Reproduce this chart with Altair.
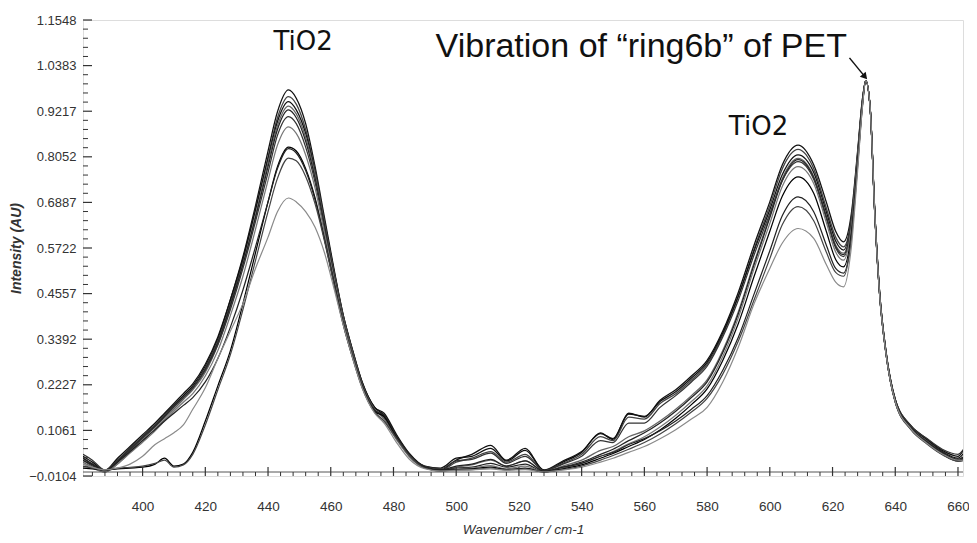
import altair as alt
import pandas as pd

# ---------------- data ----------------
wavenumber = [381, 384, 388, 392, 396, 400, 404, 407, 410, 413, 416, 420, 424, 428, 432, 436,
              440, 443, 446.5, 449, 452, 455, 458, 461, 464, 467, 470, 474, 477, 481, 485, 490,
              495, 500, 505, 511, 516, 522, 528, 534, 540, 546, 550, 555, 560, 565, 570, 575,
              580, 585, 590, 595, 600, 604, 609, 614, 618, 621, 623.5, 626, 628, 629.5, 630.6,
              632, 633.5, 635, 637, 640, 645, 650, 655, 660, 662]

s1 = [0.035, 0.02, 0.002, 0.03, 0.06, 0.09, 0.12, 0.145, 0.17, 0.195, 0.22, 0.27, 0.34, 0.44, 0.55, 0.68,
      0.82, 0.92, 0.976, 0.955, 0.89, 0.78, 0.65, 0.52, 0.40, 0.31, 0.23, 0.165, 0.145, 0.09, 0.045, 0.012,
      0.005, 0.03, 0.045, 0.068, 0.03, 0.06, 0.003, 0.025, 0.05, 0.10, 0.083, 0.15, 0.14, 0.183, 0.21, 0.245,
      0.285, 0.36, 0.46, 0.58, 0.69, 0.785, 0.835, 0.785, 0.69, 0.615, 0.588, 0.66, 0.82, 0.95, 1.0,
      0.93, 0.66, 0.46, 0.31, 0.185, 0.115, 0.083, 0.052, 0.035, 0.05]
s2 = [0.03, 0.015, 0.0, 0.025, 0.055, 0.085, 0.115, 0.14, 0.165, 0.19, 0.215, 0.265, 0.335, 0.43, 0.54, 0.67,
      0.805, 0.905, 0.959, 0.94, 0.875, 0.77, 0.64, 0.51, 0.395, 0.305, 0.225, 0.16, 0.14, 0.088, 0.042, 0.01,
      0.004, 0.025, 0.035, 0.052, 0.025, 0.045, 0.004, 0.022, 0.045, 0.09, 0.08, 0.14, 0.135, 0.175, 0.2, 0.235,
      0.275, 0.35, 0.45, 0.57, 0.68, 0.775, 0.824, 0.775, 0.675, 0.60, 0.575, 0.65, 0.815, 0.95, 1.0,
      0.93, 0.66, 0.46, 0.31, 0.18, 0.112, 0.08, 0.05, 0.032, 0.04]
s3 = [0.04, 0.025, 0.004, 0.035, 0.065, 0.095, 0.125, 0.15, 0.175, 0.20, 0.225, 0.275, 0.345, 0.44, 0.545, 0.67,
      0.80, 0.895, 0.946, 0.925, 0.865, 0.765, 0.64, 0.515, 0.40, 0.31, 0.23, 0.165, 0.15, 0.095, 0.048, 0.015,
      0.01, 0.035, 0.04, 0.06, 0.028, 0.055, 0.005, 0.028, 0.052, 0.098, 0.085, 0.148, 0.142, 0.18, 0.205, 0.24,
      0.28, 0.355, 0.45, 0.565, 0.67, 0.76, 0.81, 0.765, 0.665, 0.59, 0.567, 0.645, 0.81, 0.945, 1.0,
      0.93, 0.66, 0.46, 0.31, 0.185, 0.118, 0.085, 0.055, 0.04, 0.06]
s4 = [0.025, 0.012, 0.0, 0.02, 0.05, 0.08, 0.11, 0.135, 0.16, 0.185, 0.21, 0.255, 0.325, 0.42, 0.53, 0.655,
      0.79, 0.885, 0.935, 0.915, 0.855, 0.76, 0.635, 0.51, 0.395, 0.305, 0.225, 0.16, 0.135, 0.085, 0.04, 0.01,
      0.003, 0.012, 0.018, 0.03, 0.015, 0.028, 0.002, 0.015, 0.03, 0.055, 0.065, 0.09, 0.105, 0.13, 0.16, 0.195,
      0.235, 0.31, 0.41, 0.535, 0.655, 0.75, 0.801, 0.755, 0.655, 0.58, 0.559, 0.64, 0.81, 0.945, 1.0,
      0.93, 0.655, 0.455, 0.305, 0.18, 0.112, 0.078, 0.048, 0.03, 0.035]
s5 = [0.03, 0.018, 0.002, 0.028, 0.058, 0.088, 0.118, 0.142, 0.168, 0.19, 0.215, 0.262, 0.33, 0.425, 0.53, 0.65,
      0.78, 0.875, 0.925, 0.905, 0.845, 0.75, 0.63, 0.505, 0.39, 0.30, 0.222, 0.158, 0.14, 0.088, 0.043, 0.012,
      0.004, 0.01, 0.012, 0.022, 0.012, 0.02, 0.0, 0.012, 0.025, 0.045, 0.058, 0.08, 0.1, 0.125, 0.155, 0.19,
      0.23, 0.305, 0.405, 0.53, 0.65, 0.745, 0.798, 0.752, 0.652, 0.576, 0.555, 0.635, 0.805, 0.945, 1.0,
      0.93, 0.655, 0.455, 0.305, 0.18, 0.11, 0.075, 0.046, 0.028, 0.03]
s6 = [0.045, 0.03, 0.005, 0.03, 0.06, 0.09, 0.12, 0.145, 0.168, 0.19, 0.215, 0.26, 0.325, 0.415, 0.52, 0.64,
      0.765, 0.86, 0.908, 0.89, 0.83, 0.74, 0.62, 0.50, 0.385, 0.297, 0.22, 0.158, 0.142, 0.09, 0.045, 0.014,
      0.008, 0.028, 0.032, 0.048, 0.022, 0.04, 0.004, 0.02, 0.04, 0.08, 0.075, 0.125, 0.125, 0.165, 0.195, 0.23,
      0.27, 0.345, 0.44, 0.555, 0.66, 0.745, 0.793, 0.748, 0.648, 0.572, 0.55, 0.63, 0.80, 0.94, 1.0,
      0.93, 0.66, 0.46, 0.31, 0.186, 0.118, 0.086, 0.058, 0.045, 0.06]
s7 = [0.02, 0.01, 0.0, 0.02, 0.048, 0.076, 0.105, 0.13, 0.155, 0.178, 0.2, 0.245, 0.31, 0.40, 0.50, 0.62,
      0.745, 0.835, 0.882, 0.865, 0.81, 0.725, 0.61, 0.495, 0.385, 0.297, 0.22, 0.155, 0.13, 0.082, 0.04, 0.01,
      0.002, 0.008, 0.01, 0.016, 0.008, 0.015, 0.0, 0.01, 0.022, 0.04, 0.052, 0.072, 0.09, 0.115, 0.145, 0.18,
      0.22, 0.295, 0.395, 0.52, 0.635, 0.73, 0.78, 0.737, 0.638, 0.562, 0.541, 0.625, 0.80, 0.94, 1.0,
      0.93, 0.655, 0.455, 0.305, 0.178, 0.108, 0.074, 0.045, 0.028, 0.03]
s8 = [0.01, 0.008, 0.005, 0.008, 0.01, 0.012, 0.02, 0.035, 0.015, 0.02, 0.05, 0.13, 0.22, 0.31, 0.43, 0.56,
      0.69, 0.78, 0.83, 0.82, 0.775, 0.70, 0.595, 0.485, 0.378, 0.292, 0.218, 0.155, 0.142, 0.09, 0.045, 0.012,
      0.004, 0.006, 0.008, 0.012, 0.006, 0.01, 0.0, 0.008, 0.018, 0.035, 0.047, 0.065, 0.083, 0.107, 0.137, 0.172,
      0.212, 0.285, 0.38, 0.50, 0.615, 0.705, 0.754, 0.712, 0.615, 0.543, 0.524, 0.61, 0.79, 0.935, 1.0,
      0.93, 0.655, 0.455, 0.305, 0.18, 0.11, 0.075, 0.046, 0.03, 0.035]
s9 = [0.035, 0.02, 0.003, 0.025, 0.052, 0.08, 0.108, 0.13, 0.15, 0.17, 0.19, 0.23, 0.29, 0.37, 0.465, 0.575,
      0.69, 0.775, 0.826, 0.815, 0.77, 0.695, 0.595, 0.485, 0.38, 0.295, 0.22, 0.157, 0.145, 0.092, 0.046, 0.013,
      0.005, 0.015, 0.02, 0.032, 0.015, 0.028, 0.002, 0.012, 0.022, 0.04, 0.05, 0.07, 0.085, 0.105, 0.13, 0.16,
      0.195, 0.26, 0.345, 0.455, 0.565, 0.655, 0.703, 0.665, 0.58, 0.52, 0.508, 0.60, 0.785, 0.935, 1.0,
      0.93, 0.655, 0.455, 0.305, 0.182, 0.112, 0.078, 0.05, 0.032, 0.04]
s10 = [0.015, 0.01, 0.006, 0.01, 0.012, 0.015, 0.022, 0.03, 0.012, 0.018, 0.045, 0.12, 0.21, 0.30, 0.415, 0.54,
       0.665, 0.75, 0.802, 0.795, 0.755, 0.685, 0.59, 0.48, 0.375, 0.29, 0.215, 0.152, 0.13, 0.085, 0.042, 0.01,
       0.003, 0.005, 0.006, 0.01, 0.005, 0.008, 0.0, 0.006, 0.015, 0.03, 0.042, 0.058, 0.075, 0.097, 0.123, 0.153,
       0.188, 0.25, 0.335, 0.44, 0.545, 0.632, 0.678, 0.642, 0.562, 0.51, 0.50, 0.595, 0.78, 0.93, 1.0,
       0.93, 0.655, 0.455, 0.305, 0.178, 0.108, 0.072, 0.044, 0.027, 0.03]
s11 = [0.02, 0.012, 0.005, 0.01, 0.02, 0.04, 0.07, 0.085, 0.10, 0.12, 0.16, 0.215, 0.29, 0.36, 0.43, 0.52,
       0.60, 0.665, 0.70, 0.69, 0.665, 0.625, 0.56, 0.47, 0.375, 0.29, 0.215, 0.15, 0.125, 0.075, 0.033, 0.008,
       0.002, 0.004, 0.005, 0.008, 0.004, 0.006, 0.0, 0.005, 0.012, 0.025, 0.035, 0.05, 0.065, 0.085, 0.108, 0.135,
       0.165, 0.23, 0.32, 0.43, 0.52, 0.585, 0.622, 0.597, 0.53, 0.485, 0.473, 0.575, 0.77, 0.93, 1.0,
       0.93, 0.655, 0.455, 0.305, 0.18, 0.11, 0.074, 0.046, 0.03, 0.03]

series_names = ["s1", "s2", "s3", "s4", "s5", "s6", "s7", "s8", "s9", "s10", "s11"]
series_values = [s1, s2, s3, s4, s5, s6, s7, s8, s9, s10, s11]
series_colors = ["#111111", "#444444", "#111111", "#666666", "#222222", "#333333",
                 "#777777", "#000000", "#222222", "#444444", "#8a8a8a"]
series_widths = [1.3, 1.2, 1.3, 1.2, 1.3, 1.2, 1.2, 1.9, 1.3, 1.2, 1.2]

y_tick_labels = [-0.0104, 0.1061, 0.2227, 0.3392, 0.4557, 0.5722, 0.6887, 0.8052, 0.9217, 1.0383, 1.1548]
x_tick_labels = [400, 420, 440, 460, 480, 500, 520, 540, 560, 580, 600, 620, 640, 660]

ann_text = ["TiO2", "TiO2"]
ann_x = [451.2, 596.4]
ann_y = [1.0986, 0.8814]
pet_text = ["Vibration of \u201cring6b\u201d of PET"]
pet_x = [624.6]
pet_y = [1.0858]
arrow_x = [625.4, 630.1]
arrow_y = [1.058, 1.012]

# ---------------- build tables ----------------
rows = []
for name, vals in zip(series_names, series_values):
    for w, v in zip(wavenumber, vals):
        rows.append({"series": name, "wn": w, "v": v})
df = pd.DataFrame(rows)

y_minor = []
for a, b in zip(y_tick_labels[:-1], y_tick_labels[1:]):
    for k in range(1, 5):
        y_minor.append(a + (b - a) * k / 5)
x_minor = [w for w in range(384, 662, 4) if w not in x_tick_labels]

W, H = 880, 456
xscale = alt.Scale(domain=[381, 661.6], nice=False, zero=False)
yscale = alt.Scale(domain=[-0.0104, 1.1548], nice=False, zero=False)

lines = alt.Chart(df).mark_line(interpolate="monotone", clip=True).encode(
    x=alt.X("wn:Q", scale=xscale,
            axis=alt.Axis(values=x_tick_labels, ticks=False, domain=False, grid=False,
                          labelPadding=23, title="Wavenumber / cm-1", titleFontStyle="italic",
                          titleFontWeight="normal", titleFontSize=13.5, titlePadding=10,
                          titleColor="#333333", labelColor="#333333", labelFontSize=13.5,
                          labelFont="Liberation Sans", titleFont="Liberation Sans")),
    y=alt.Y("v:Q", scale=yscale,
            axis=alt.Axis(values=y_tick_labels, ticks=False, domain=False, grid=False,
                          labelPadding=7, format=".4f", title="Intensity (AU)",
                          titleFontStyle="italic", titleFontWeight="bold", titleFontSize=14,
                          titlePadding=5, titleColor="#333333", labelColor="#333333",
                          labelFontSize=13, labelFont="Liberation Sans",
                          titleFont="Liberation Sans")),
    color=alt.Color("series:N", scale=alt.Scale(domain=series_names, range=series_colors), legend=None),
    strokeWidth=alt.StrokeWidth("series:N", scale=alt.Scale(domain=series_names, range=series_widths), legend=None),
    detail="series:N",
)

ytmaj = alt.Chart(pd.DataFrame({"v": y_tick_labels})).mark_rule(color="#333333", strokeWidth=1.2).encode(
    y=alt.Y("v:Q", scale=yscale), x=alt.value(0), x2=alt.value(9))
ytmin = alt.Chart(pd.DataFrame({"v": y_minor})).mark_rule(color="#333333", strokeWidth=1).encode(
    y=alt.Y("v:Q", scale=yscale), x=alt.value(0), x2=alt.value(5))
xtmaj = alt.Chart(pd.DataFrame({"wn": x_tick_labels})).mark_rule(color="#333333", strokeWidth=1.2).encode(
    x=alt.X("wn:Q", scale=xscale), y=alt.value(H), y2=alt.value(H - 9))
xtmin = alt.Chart(pd.DataFrame({"wn": x_minor})).mark_rule(color="#333333", strokeWidth=1).encode(
    x=alt.X("wn:Q", scale=xscale), y=alt.value(H), y2=alt.value(H - 4))
inner = alt.Chart(pd.DataFrame({"a": [0]})).mark_rule(color="#555555", strokeWidth=1).encode(
    x=alt.value(0), x2=alt.value(W), y=alt.value(H - 4))

tio2 = alt.Chart(pd.DataFrame({"t": ann_text, "x": ann_x, "y": ann_y})).mark_text(
    font="DejaVu Sans", fontSize=26, color="#111111", align="center", baseline="middle").encode(
    x=alt.X("x:Q", scale=xscale), y=alt.Y("y:Q", scale=yscale), text="t:N")
pet = alt.Chart(pd.DataFrame({"t": pet_text, "x": pet_x, "y": pet_y})).mark_text(
    font="Liberation Sans", fontSize=34, color="#111111", align="right", baseline="middle").encode(
    x=alt.X("x:Q", scale=xscale), y=alt.Y("y:Q", scale=yscale), text="t:N")
arrow_df = pd.DataFrame({"x": arrow_x, "y": arrow_y, "o": [0, 1]})
shaft = alt.Chart(arrow_df).mark_line(color="#111111", strokeWidth=1.5).encode(
    x=alt.X("x:Q", scale=xscale), y=alt.Y("y:Q", scale=yscale), order="o:Q")
head = alt.Chart(arrow_df.iloc[[1]]).mark_point(shape="triangle", filled=True, size=60,
                                                 angle=139, color="#111111", opacity=1).encode(
    x=alt.X("x:Q", scale=xscale), y=alt.Y("y:Q", scale=yscale))

chart = alt.layer(lines, inner, ytmaj, ytmin, xtmaj, xtmin, tio2, pet, shaft, head).properties(
    width=W, height=H,
    autosize=alt.AutoSizeParams(type="none"),
    padding={"left": 75, "top": 12, "right": 6, "bottom": 63},
).configure_view(stroke="#333333", strokeWidth=2).configure(background="white")

chart.save("out.html", embed_options={"renderer": "svg", "actions": False})
